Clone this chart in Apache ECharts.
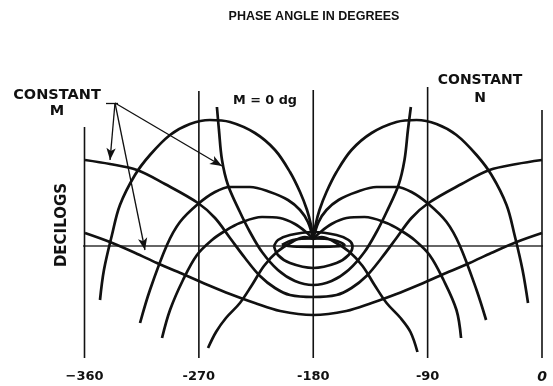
<!DOCTYPE html>
<html><head><meta charset="utf-8">
<script src="https://cdn.jsdelivr.net/npm/echarts@6/dist/echarts.min.js"></script>
<style>html,body{margin:0;padding:0;background:#fff}#c{width:553px;height:386px}</style>
</head><body><div id="c"></div>
<script>
// x: phase angle in degrees; y: decilog-like units (0 = 0 dB line)
const tickValues = [-360, -270, -180, -90, 0];
const tickLabels = ['\u2212360', '-270', '-180', '-90', '0'];

// Constant-M contours
const mOpenLow = [[-359.6,1.3],[-340,0.4],[-320,-0.7],[-303,-1.7],[-281,-2.9],[-261,-4.0],[-245.5,-4.8],[-226,-5.7],[-206,-6.5],[-180,-6.9],[-154,-6.5],[-134,-5.7],[-114.5,-4.8],[-99,-4.0],[-79,-2.9],[-57,-1.7],[-40,-0.7],[-20,0.4],[0,1.3]];
const mOpenHigh = [[-359.6,8.6],[-340,8.2],[-318.7,7.6],[-296.7,6.2],[-270.7,4.3],[-257.3,2.8],[-245.5,0.8],[-233.7,-1.2],[-221.9,-3.0],[-210.1,-4.2],[-198.3,-4.9],[-180,-5.1],[-161.7,-4.9],[-149.9,-4.2],[-138.1,-3.0],[-126.3,-1.2],[-114.5,0.8],[-102.7,2.8],[-89.3,4.3],[-63.3,6.2],[-41.3,7.6],[-20,8.2],[0,8.6]];
const mZero = [[-255.8,13.9],[-254.2,11.6],[-251.8,8.6],[-247.1,6.1],[-237.7,3.4],[-229.8,1.4],[-220.3,-0.6],[-207.8,-2.4],[-194.4,-3.5],[-180,-3.9],[-165.6,-3.5],[-152.2,-2.4],[-139.7,-0.6],[-130.2,1.4],[-122.3,3.4],[-112.9,6.1],[-108.2,8.6],[-105.5,11.6],[-103.2,13.9]];
const mLoopOuter = [[-210.9,0],[-207.8,-0.9],[-198.3,-1.7],[-180,-2.2],[-161.7,-1.7],[-152.2,-0.9],[-149.1,0],[-152.2,0.6],[-161.7,1.1],[-180,1.4],[-198.3,1.1],[-207.8,0.6],[-210.9,0]];
const mLoopInner = [[-204.6,0.1],[-196,0.6],[-180,0.75],[-164,0.6],[-155.4,0.1],[-164,-0.05],[-180,-0.08],[-196,-0.05],[-204.6,0.1]];

// Constant-N contours (left arches and their right partners)
const n1Left = [[-347.8,-5.4],[-344.7,-2.4],[-338.4,1.1],[-332.1,4.1],[-320.3,7.1],[-308.5,9.1],[-292.7,11.1],[-277,12.2],[-261.3,12.6],[-245.5,12.4],[-225.9,11.3],[-210.1,9.6],[-198.3,7.4],[-190.4,5.4],[-184.9,3.6],[-181.8,2.1],[-180,0.7]];
const n1Right = [[-180,0.7],[-178.2,2.1],[-175.1,3.6],[-169.6,5.4],[-161.7,7.4],[-149.9,9.6],[-134.1,11.3],[-114.5,12.4],[-98.7,12.6],[-83,12.2],[-67.3,11.1],[-51.5,9.1],[-39.7,7.1],[-27.9,4.1],[-21.6,1.1],[-15.3,-2.4],[-11,-5.7]];
const n2Left = [[-316.3,-7.7],[-308.5,-4.4],[-295.1,0.1],[-284.9,2.4],[-270.7,4.2],[-257.3,5.4],[-245.5,5.9],[-229.8,5.9],[-214.1,5.4],[-199.9,4.6],[-190.4,3.6],[-184.2,2.4],[-180,0.7]];
const n2Right = [[-180,0.7],[-175.8,2.4],[-169.6,3.6],[-160.1,4.6],[-145.9,5.4],[-130.2,5.9],[-114.5,5.9],[-102.7,5.4],[-89.3,4.2],[-75.1,2.4],[-64.9,0.1],[-51.5,-4.4],[-44,-7.4]];
const n3Left = [[-299,-9.2],[-292.7,-6.4],[-282.5,-3.4],[-271.5,-0.9],[-259.7,0.6],[-249.5,1.5],[-237.7,2.3],[-220.3,2.9],[-206.2,2.8],[-194.4,2.2],[-185.7,1.4],[-180,0.7]];
const n3Right = [[-180,0.7],[-174.3,1.4],[-165.6,2.2],[-153.8,2.8],[-139.7,2.9],[-122.3,2.3],[-110.5,1.5],[-100.3,0.6],[-88.5,-0.9],[-77.5,-3.4],[-67.3,-6.4],[-63.7,-9.2]];
const n4Left = [[-262.8,-10.2],[-256.5,-8.6],[-248.7,-7.2],[-237.7,-5.7],[-228.2,-3.9],[-218.8,-2.0],[-208.6,-0.6],[-196.7,0.4],[-186.5,0.9],[-180,0.7]];
const n4Right = [[-180,0.7],[-173.5,0.9],[-163.3,0.4],[-151.4,-0.6],[-141.2,-2.0],[-131.8,-3.9],[-122.3,-5.7],[-111.3,-7.2],[-103.5,-8.6],[-98,-10.6]];

// Reference lines
const zeroLine = [[-366,0],[8.6,0]];
const phaseLines = [[-360,11.9],[-270,15.5],[-180,15.6],[-90,15.9],[0,13.6]];
const lineBottom = -11.2;

// Annotation arrows
const mApex = [-336, 14.3];
const mTips = [[-339.9,8.6],[-312.4,-0.4],[-251.8,8.0]];
const mUnder = [[-343.1,14.3],[-333.6,14.3]];
const nApex = [7.8, 15.7];
const nTips = [[-41,8.3],[-74.8,3.4],[-93.7,0.4],[-115.7,-2.6]];
const nUnder = [[-7.1,15.7],[7.8,15.7]];

const chart = echarts.init(document.getElementById('c'));
const INK = '#111';
function curve(d, w) {
  return {type:'line', data:d, smooth:0.35, symbol:'none', clip:false, silent:true,
    lineStyle:{color:INK, width:w||2.7}, z:3};
}
const series = [];
series.push({type:'line', data:zeroLine, symbol:'none', clip:false, lineStyle:{color:'#333', width:1.5}, z:2});
phaseLines.forEach(p => series.push({type:'line', data:[[p[0],lineBottom],[p[0],p[1]]], symbol:'none', clip:false, lineStyle:{color:INK, width:1.6}, z:2}));
[mOpenLow, mOpenHigh, mZero, mLoopOuter, mLoopInner, n1Left, n1Right, n2Left, n2Right, n3Left, n3Right, n4Left, n4Right].forEach(d => series.push(curve(d)));
const arrowData = [];
mTips.forEach(t => arrowData.push([{coord:mApex},{coord:t}]));
nTips.forEach(t => arrowData.push([{coord:nApex},{coord:t}]));
series.push({type:'line', data:[], symbol:'none',
  markLine:{silent:true, symbol:['none','arrow'], symbolSize:[7,12], label:{show:false},
    lineStyle:{color:INK, width:1.3, type:'solid'}, data:arrowData}});
series.push({type:'line', data:[], symbol:'none',
  markLine:{silent:true, symbol:['none','none'], label:{show:false},
    lineStyle:{color:INK, width:1.3, type:'solid'},
    data:[[{coord:mUnder[0]},{coord:mUnder[1]}],[{coord:nUnder[0]},{coord:nUnder[1]}]]}});

const bold = {fontFamily:'DejaVu Sans', fontWeight:'bold', fill:INK};
function txt(x, y, s, size, extra) {
  return {type:'text', x:x, y:y, rotation:(extra&&extra.rot)||0,
    style:Object.assign({text:s, fontSize:size, align:'center', verticalAlign:'middle'}, bold, (extra&&extra.style)||{})};
}
chart.setOption({
  animation:false,
  backgroundColor:'#fff',
  grid:{left:84.5, right:11, top:86, bottom:28},
  xAxis:{type:'value', min:-360, max:0, interval:90,
    axisLine:{show:false}, axisTick:{show:false}, splitLine:{show:false},
    axisLabel:{margin:12, color:INK, fontFamily:'DejaVu Sans', fontWeight:'bold', fontSize:13,
      formatter:v => { const i = tickValues.indexOf(v); if (i<0) return ''; return v===0 ? '{i|'+tickLabels[i]+'}' : tickLabels[i]; },
      rich:{i:{fontStyle:'italic', fontWeight:'bold', fontSize:14, fontFamily:'DejaVu Sans', color:INK}}}},
  yAxis:{type:'value', min:-11.2, max:16, show:false},
  series:series,
  graphic:[
    txt(314, 17, 'PHASE ANGLE IN DEGREES', 12.5, {style:{fontFamily:'Liberation Sans'}}),
    txt(62, 225, 'DECILOGS', 15, {rot:Math.PI/2}),
    txt(57, 95, 'CONSTANT', 14.5),
    txt(57, 111, 'M', 14.5),
    txt(265, 101, 'M = 0 dg', 12.8),
    txt(480, 80, 'CONSTANT', 14),
    txt(480, 98, 'N', 14)
  ]
});
</script></body></html>
